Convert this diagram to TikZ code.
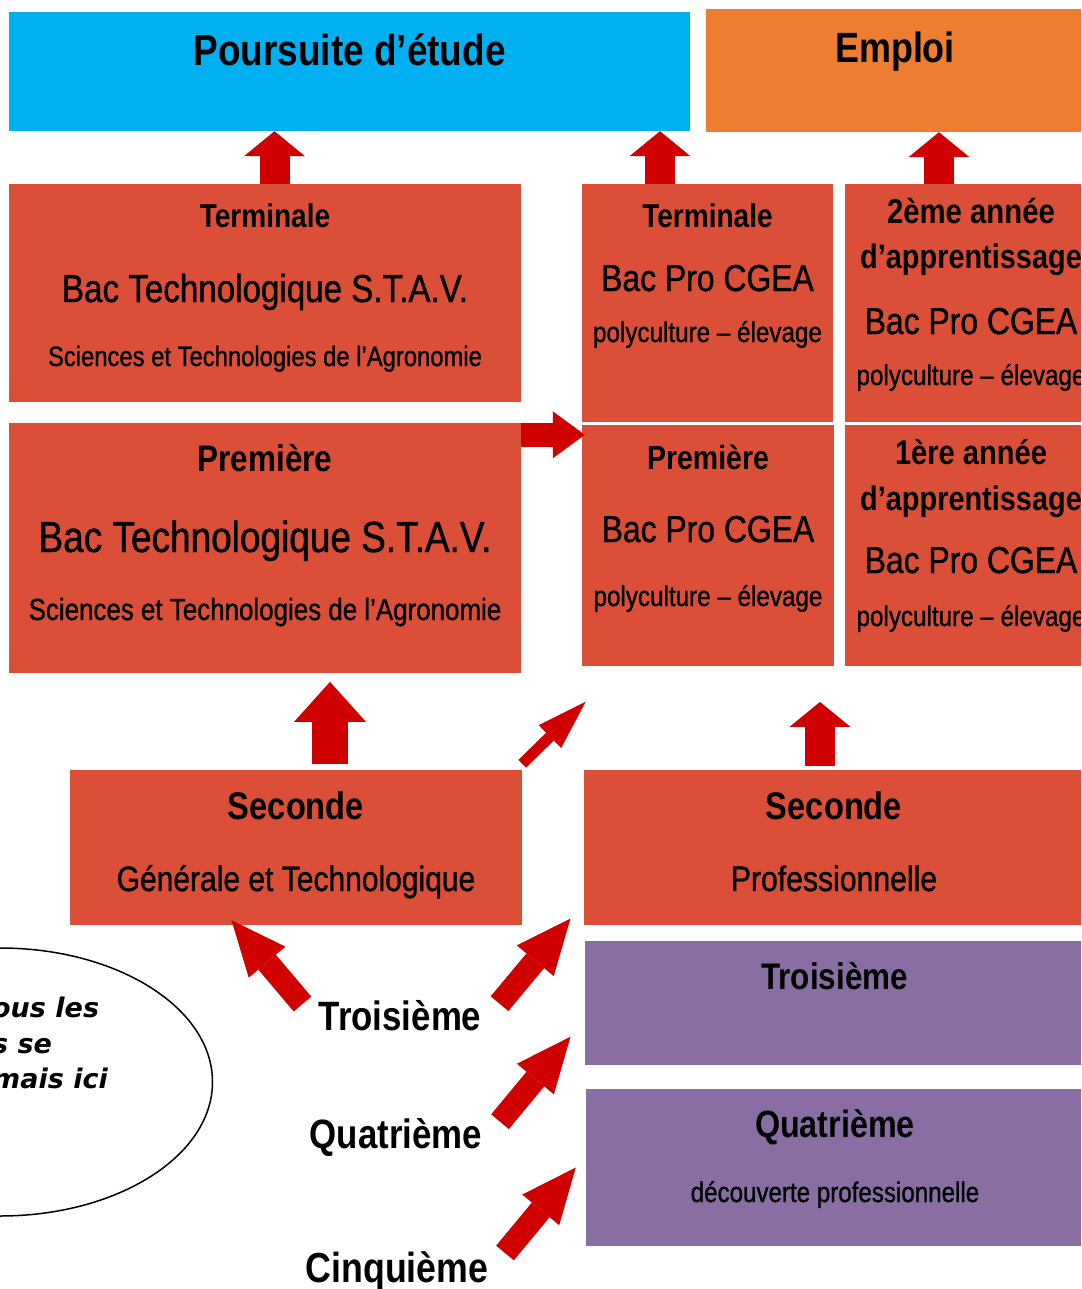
\documentclass[tikz,border=0pt]{standalone}
\usepackage{fontspec}
\setmainfont{Liberation Sans}[FakeStretch=0.85, UprightFeatures={FakeBold=1}]
\newfontfamily\notefont{DejaVu Sans}
\usetikzlibrary{shapes.geometric, arrows.meta}

\definecolor{boxred}{RGB}{219,79,56}
\definecolor{skyblue}{RGB}{0,176,240}
\definecolor{boxorange}{RGB}{237,125,49}
\definecolor{boxpurple}{RGB}{136,110,162}
\definecolor{arrowred}{RGB}{208,0,0}

\newcommand{\fs}[1]{\fontsize{#1}{0}\selectfont}
\newcommand{\up}[1]{\rule{0pt}{#1pt}}
\newcommand{\down}[1]{\rule[-#1pt]{0pt}{#1pt}}

\tikzstyle{box} = [rectangle, inner sep=0pt, align=center, font={\fs{20}\lineskiplimit=-1000pt}]
\tikzstyle{redbox} = [box, fill=boxred]
\tikzstyle{bluebox} = [box, fill=skyblue]
\tikzstyle{orangebox} = [box, fill=boxorange]
\tikzstyle{purplebox} = [box, fill=boxpurple]
\tikzstyle{level} = [inner sep=0pt, anchor=base, font=\bfseries\fs{41}]
\tikzstyle{fat} = [draw=arrowred, line width=30pt, -{Triangle[length=25pt, width=61pt, line width=0pt]}]
\tikzstyle{fatright} = [draw=arrowred, line width=24pt, -{Triangle[length=32pt, width=47pt, line width=0pt]}]
\tikzstyle{fatbig} = [draw=arrowred, line width=36pt, -{Triangle[length=40pt, width=72pt, line width=0pt]}]
\tikzstyle{diag} = [draw=arrowred, line width=23pt, -{Triangle[length=55pt, width=48pt, line width=0pt]}]
\tikzstyle{thin} = [draw=arrowred, line width=11pt, -{Triangle[length=50pt, width=32pt, line width=0pt]}]

\begin{document}
\begin{tikzpicture}[x=1pt, y=-1pt]
\useasboundingbox (0,0) rectangle (1081,1289);
\fill[white] (0,0) rectangle (1081,1289);
\clip (0,0) rectangle (1081,1289);

% sorties
\node(poursuite)[bluebox, minimum width=681pt, minimum height=119pt] at (349.5,71.5)
  {\up{54}\bfseries\fs{43.5}Poursuite d’étude\down{65}};
\node(emploi)[orangebox, minimum width=378pt, minimum height=123pt] at (895,70.5)
  {\up{54}\bfseries\fs{42.3}Emploi\down{69}};

% voie technologique
\node(termstav)[redbox, minimum width=512pt, minimum height=218pt] at (265,293)
  {\up{43}\bfseries\fs{33}Terminale\\[75pt]
   \fs{39}Bac Technologique S.T.A.V.\\[64pt]
   \fs{28}Sciences et Technologies de l’Agronomie\down{36}};
\node(premstav)[redbox, minimum width=512pt, minimum height=250pt] at (265,548)
  {\up{48}\bfseries\fs{37}Première\\[81pt]
   \fs{43.5}Bac Technologique S.T.A.V.\\[68pt]
   \fs{30.5}Sciences et Technologies de l’Agronomie\down{53}};
\node(secgt)[redbox, minimum width=452pt, minimum height=155pt] at (296,847.5)
  {\up{49}\bfseries\fs{38.4}Seconde\\[72pt]
   \fs{35.3}Générale et Technologique\down{34}};

% voie professionnelle
\node(termpro)[redbox, minimum width=251pt, minimum height=238pt] at (707.5,303)
  {\up{43}\bfseries\fs{33}Terminale\\[64pt]
   \fs{37.5}Bac Pro CGEA\\[51pt]
   \fs{28.5}polyculture – élevage\down{80}};
\node(prempro)[redbox, minimum width=252pt, minimum height=241pt] at (708,545.5)
  {\up{44}\bfseries\fs{33.5}Première\\[73pt]
   \fs{37.5}Bac Pro CGEA\\[64pt]
   \fs{28.5}polyculture – élevage\down{60}};
\node(app2)[redbox, minimum width=252pt, minimum height=238pt] at (971,303)
  {\up{39}\bfseries\fs{34.5}2ème année\\[45pt]
   \bfseries\fs{34}d’apprentissage\\[66pt]
   \fs{37.5}Bac Pro CGEA\\[51pt]
   \fs{28.5}polyculture – élevage\down{37}};
\node(app1)[redbox, minimum width=252pt, minimum height=241pt] at (971,545.5)
  {\up{39}\bfseries\fs{34.2}1ère année\\[46pt]
   \bfseries\fs{34}d’apprentissage\\[63pt]
   \fs{37.5}Bac Pro CGEA\\[53pt]
   \fs{28.5}polyculture – élevage\down{40}};
\node(secpro)[redbox, minimum width=500pt, minimum height=155pt] at (834,847.5)
  {\up{49}\bfseries\fs{38.4}Seconde\\[72pt]
   \fs{35.5}Professionnelle\down{34}};
\node(troisp)[purplebox, minimum width=499pt, minimum height=124pt] at (834.5,1003)
  {\up{48}\bfseries\fs{37}Troisième\down{76}};
\node(quatp)[purplebox, minimum width=498pt, minimum height=157pt] at (835,1167.5)
  {\up{48}\bfseries\fs{38}Quatrième\\[65pt]
   \fs{28.4}découverte professionnelle\down{44}};

% classes d'origine
\node(troisieme)[level] at (400,1030) {Troisième};
\node(quatrieme)[level] at (396,1148) {Quatrième};
\node(cinquieme)[level, font=\bfseries\fs{42}] at (397,1282) {Cinquième};

% bulle
\node(bulle)[ellipse, draw, line width=1.5pt, inner sep=0pt, minimum width=425pt, minimum height=268pt] at (0,1082) {};
\node(bulletext)[inner sep=0pt, anchor=north west, align=left, font={\notefont\bfseries\itshape\fs{27}\lineskiplimit=-1000pt}] at (-8,987)
  {\up{30}ous les\\[36pt] s se\\[35pt] mais ici};

% fleches
\coordinate(gap) at (585.7,701.7);
\coordinate(t3a) at (302.5,1004);
\coordinate(t3b) at (499.5,1003.7);
\coordinate(t4) at (500,1121.7);
\coordinate(t5) at (505,1253);
\draw[fat] ([xshift=9.5pt]termstav.north) -- ([xshift=-75pt]poursuite.south);
\draw[fat] ([xshift=-47.5pt]termpro.north) -- ([xshift=310.5pt]poursuite.south);
\draw[fat] ([xshift=-32pt]app2.north) -- ([xshift=44pt]emploi.south);
\draw[fatright] ([yshift=-12pt]premstav.north east) -- ([xshift=3pt, yshift=-10pt]prempro.north west);
\draw[fatbig] ([xshift=34pt, yshift=6pt]secgt.north) -- ([xshift=65pt, yshift=-8.7pt]premstav.south);
\draw[fat] ([xshift=-14pt, yshift=4pt]secpro.north) -- ([xshift=112pt, yshift=-35.7pt]prempro.south);
\draw[thin] ([yshift=6pt]secgt.north east) -- (gap);
\draw[diag] (t3a) -- ([xshift=161.7pt, yshift=5pt]secgt.south west);
\draw[diag] (t3b) -- ([xshift=-13.3pt, yshift=6.7pt]secpro.south west);
\draw[diag] (t4) -- ([xshift=-14.3pt, yshift=-33.7pt]troisp.west);
\draw[diag] (t5) -- ([xshift=-10pt]quatp.west);

\end{tikzpicture}
\end{document}
